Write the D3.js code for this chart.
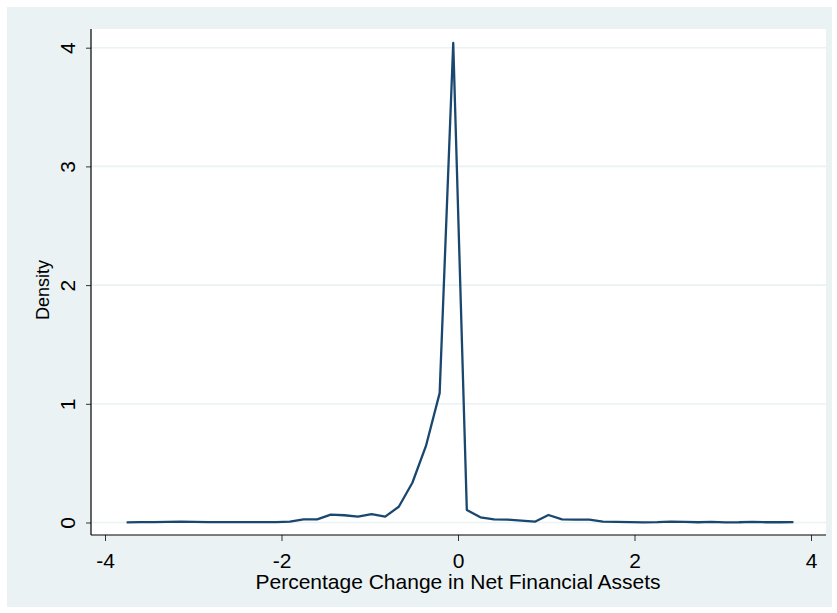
<!DOCTYPE html>
<html>
<head>
<meta charset="utf-8">
<script src="https://cdn.jsdelivr.net/npm/d3@7"></script>
<style>
  html, body { margin: 0; padding: 0; background: #ffffff; }
  svg { display: block; font-family: "Liberation Sans", Arial, sans-serif; }
</style>
</head>
<body>
<svg id="chart" width="837" height="613"></svg>
<script>
// Kernel density estimate evaluated at 50 points
const evalPoints = [
  -3.755, -3.601, -3.447, -3.292, -3.138, -2.984, -2.830, -2.676, -2.521, -2.367,
  -2.213, -2.059, -1.905, -1.750, -1.596, -1.442, -1.288, -1.134, -0.979, -0.825,
  -0.671, -0.517, -0.363, -0.208, -0.054,  0.100,  0.254,  0.408,  0.563,  0.717,
   0.871,  1.025,  1.179,  1.334,  1.488,  1.642,  1.796,  1.950,  2.105,  2.259,
   2.413,  2.567,  2.721,  2.876,  3.030,  3.184,  3.338,  3.492,  3.647,  3.801
];
const densityValues = [
  0.001, 0.004, 0.004, 0.006, 0.008, 0.005, 0.003, 0.003, 0.003, 0.003,
  0.003, 0.004, 0.008, 0.027, 0.027, 0.066, 0.061, 0.049, 0.071, 0.049,
  0.133, 0.335, 0.645, 1.090, 4.040, 0.105, 0.044, 0.027, 0.024, 0.015,
  0.007, 0.063, 0.027, 0.024, 0.024, 0.007, 0.006, 0.004, 0.001, 0.003,
  0.008, 0.006, 0.002, 0.005, 0.001, 0.002, 0.006, 0.002, 0.002, 0.004
];
const xTicks = [-4, -2, 0, 2, 4];
const yTicks = [0, 1, 2, 3, 4];
const xTitle = "Percentage Change in Net Financial Assets";
const yTitle = "Density";

const svg = d3.select("#chart");

const outer = { x: 7, y: 7, w: 825, h: 600 };
const plot = { left: 91, right: 826, top: 29, bottom: 535 };

const bgColor = "#eaf2f3";
const lineColor = "#1a476f";
const fontStack = "'Liberation Sans', Arial, sans-serif";

// graph region and plot region
svg.append("rect")
  .attr("x", outer.x).attr("y", outer.y)
  .attr("width", outer.w).attr("height", outer.h)
  .attr("fill", bgColor);
svg.append("rect")
  .attr("x", plot.left).attr("y", plot.top)
  .attr("width", plot.right - plot.left).attr("height", plot.bottom - plot.top)
  .attr("fill", "#ffffff");

const x = d3.scaleLinear().domain([-4, 4]).range([105, 811]);
const y = d3.scaleLinear().domain([0, 4]).range([522.5, 47.7]);

// horizontal gridlines
svg.append("g")
  .selectAll("line")
  .data(yTicks)
  .join("line")
  .attr("x1", plot.left).attr("x2", plot.right)
  .attr("y1", d => y(d)).attr("y2", d => y(d))
  .attr("stroke", bgColor)
  .attr("stroke-width", 1.6);

// y axis
const yAxis = svg.append("g")
  .attr("transform", `translate(${plot.left},0)`)
  .call(d3.axisLeft(y).tickValues(yTicks).tickSize(5).tickPadding(0).tickFormat(d3.format("d")));
yAxis.select(".domain").remove();
yAxis.selectAll(".tick line").attr("stroke", "#333").attr("stroke-width", 1);
yAxis.selectAll(".tick text")
  .attr("x", null).attr("dy", null)
  .attr("transform", "translate(-16,0) rotate(-90)")
  .attr("text-anchor", "middle")
  .attr("fill", "#000")
  .style("font-size", "21px")
  .style("font-family", fontStack);

// x axis
const xAxis = svg.append("g")
  .attr("transform", `translate(0,${plot.bottom})`)
  .call(d3.axisBottom(x).tickValues(xTicks).tickSize(6).tickPadding(0).tickFormat(d => d < 0 ? "-" + Math.abs(d) : String(d)));
xAxis.select(".domain").remove();
xAxis.selectAll(".tick line").attr("stroke", "#333").attr("stroke-width", 1);
xAxis.selectAll(".tick text")
  .attr("y", 33).attr("dy", null)
  .attr("fill", "#000")
  .style("font-size", "21px")
  .style("font-family", fontStack);

// axis lines
svg.append("line")
  .attr("x1", plot.left).attr("x2", plot.left)
  .attr("y1", plot.top).attr("y2", plot.bottom)
  .attr("stroke", "#000").attr("stroke-width", 1.2);
svg.append("line")
  .attr("x1", plot.left).attr("x2", plot.right)
  .attr("y1", plot.bottom).attr("y2", plot.bottom)
  .attr("stroke", "#000").attr("stroke-width", 1.2);

// density curve
const line = d3.line()
  .x((d, i) => x(evalPoints[i]))
  .y(d => y(d));
svg.append("path")
  .datum(densityValues)
  .attr("d", line)
  .attr("fill", "none")
  .attr("stroke", lineColor)
  .attr("stroke-width", 2.3)
  .attr("stroke-linejoin", "round");

// axis titles
svg.append("text")
  .attr("x", 458).attr("y", 589)
  .attr("text-anchor", "middle")
  .style("font-size", "21px")
  .attr("fill", "#000")
  .text(xTitle);
svg.append("text")
  .attr("transform", "translate(49,290) rotate(-90)")
  .attr("text-anchor", "middle")
  .style("font-size", "18px")
  .attr("fill", "#000")
  .text(yTitle);
</script>
</body>
</html>
